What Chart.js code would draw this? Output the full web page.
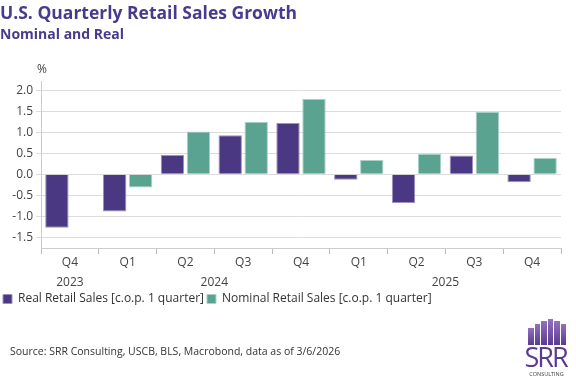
<!DOCTYPE html>
<html>
<head>
<meta charset="utf-8">
<script src="https://cdn.jsdelivr.net/npm/chart.js@4"></script>
<style>
  body { margin: 0; background: #fff; }
  #wrap { position: relative; width: 576px; height: 384px; }
  #source { position: absolute; left: 10px; top: 344px; font: 10.5px "Open Sans", sans-serif; color: #333; }
  #logo { position: absolute; left: 526px; top: 319px; width: 41px; height: 62px; }
  #logo .bars { display: flex; align-items: flex-end; gap: 1px; height: 26px; padding-left: 2px; }
  #logo .bars span { width: 5.5px; background: linear-gradient(#9470bd, #5a3a92); }
  #logo .srr { font: 27px/23px "Open Sans", sans-serif; color: #5b3a93; letter-spacing: -2px; text-align: center; margin-left: -2px; }
  #logo .cons { font: 5.5px "Open Sans", sans-serif; color: #444; text-align: center; margin-top: 2px; }
</style>
</head>
<body>
<div id="wrap">
  <canvas id="chart" width="576" height="384"></canvas>
  <div id="source">Source: SRR Consulting, USCB, BLS, Macrobond, data as of 3/6/2026</div>
  <div id="logo">
    <div class="bars"><span style="height:17px"></span><span style="height:21px"></span><span style="height:24px"></span><span style="height:26px"></span><span style="height:24px"></span><span style="height:21px"></span></div>
    <div class="srr">SRR</div>
    <div class="cons">CONSULTING</div>
  </div>
</div>
<script>
const categories = ['Q4', 'Q1', 'Q2', 'Q3', 'Q4', 'Q1', 'Q2', 'Q3', 'Q4']
const years = ['2023', '2024', '2024', '2024', '2024', '2025', '2025', '2025', '2025']
const realSales = [-1.27, -0.88, 0.46, 0.93, 1.22, -0.13, -0.68, 0.45, -0.19]
const nominalSales = [null, -0.31, 1.02, 1.25, 1.80, 0.34, 0.49, 1.49, 0.39]
const yTicks = [-1.5, -1.0, -0.5, 0.0, 0.5, 1.0, 1.5, 2.0]

const purple = '#4b3883'
const teal = '#5aa391'
const font = '"Open Sans", sans-serif'

// year row under the quarter labels, centred on each year's group
const yearRow = {
  id: 'yearRow',
  afterDraw(chart) {
    const x = chart.scales.x
    const ctx = chart.ctx
    const groups = []
    years.forEach((y, i) => {
      const last = groups[groups.length - 1]
      if (last && last.year === y) last.end = i
      else groups.push({ year: y, start: i, end: i })
    })
    ctx.save()
    ctx.font = '12px ' + font
    ctx.fillStyle = '#444'
    ctx.textAlign = 'center'
    ctx.textBaseline = 'middle'
    groups.forEach(g => {
      ctx.fillText(g.year, x.getPixelForValue((g.start + g.end) / 2), x.top + 35)
    })
    // unit label
    ctx.textAlign = 'left'
    ctx.fillText('%', chart.chartArea.left - 4, chart.chartArea.top - 12)
    ctx.restore()
  }
}

new Chart(document.getElementById('chart'), {
  type: 'bar',
  data: {
    labels: categories,
    datasets: [
      {
        label: 'Real Retail Sales [c.o.p. 1 quarter]',
        data: realSales,
        backgroundColor: purple,
        borderColor: '#9d90c2',
        borderWidth: 1,
      },
      {
        label: 'Nominal Retail Sales [c.o.p. 1 quarter]',
        data: nominalSales,
        backgroundColor: teal,
        borderColor: '#a9d3c8',
        borderWidth: 1,
      },
    ],
  },
  options: {
    responsive: false,
    animation: false,
    barPercentage: 0.9,
    categoryPercentage: 0.9,
    layout: { padding: { left: 0, right: 15, top: 0, bottom: 69 } },
    plugins: {
      title: {
        display: true,
        text: 'U.S. Quarterly Retail Sales Growth',
        align: 'start',
        color: '#4a3a8c',
        font: { family: font, size: 17.5, weight: 'bold' },
        padding: { top: 4, bottom: 0 },
      },
      subtitle: {
        display: true,
        text: 'Nominal and Real',
        align: 'start',
        color: '#4a3a8c',
        font: { family: font, size: 14, weight: 'bold' },
        padding: { top: 2, bottom: 38 },
      },
      legend: {
        position: 'bottom',
        align: 'start',
        labels: {
          boxWidth: 9,
          boxHeight: 9,
          padding: 3,
          color: '#333',
          font: { family: font, size: 12 },
        },
      },
      tooltip: { enabled: false },
    },
    scales: {
      x: {
        grid: { display: true, drawOnChartArea: false, tickLength: 6, color: '#bbb' },
        border: { color: '#ccc' },
        ticks: { color: '#444', font: { family: font, size: 12 }, padding: 1 },
        afterFit: axis => { axis.height = 42 },
      },
      y: {
        min: -1.75,
        max: 2.2,
        afterBuildTicks: axis => { axis.ticks = yTicks.map(v => ({ value: v })) },
        afterFit: axis => { axis.width = 41 },
        grid: { color: '#dcdcdc', tickLength: 5 },
        border: { color: '#ccc' },
        ticks: {
          color: '#444',
          font: { family: font, size: 12 },
          padding: 3,
          callback: v => v.toFixed(1),
        },
      },
    },
  },
  plugins: [yearRow],
})
</script>
</body>
</html>
